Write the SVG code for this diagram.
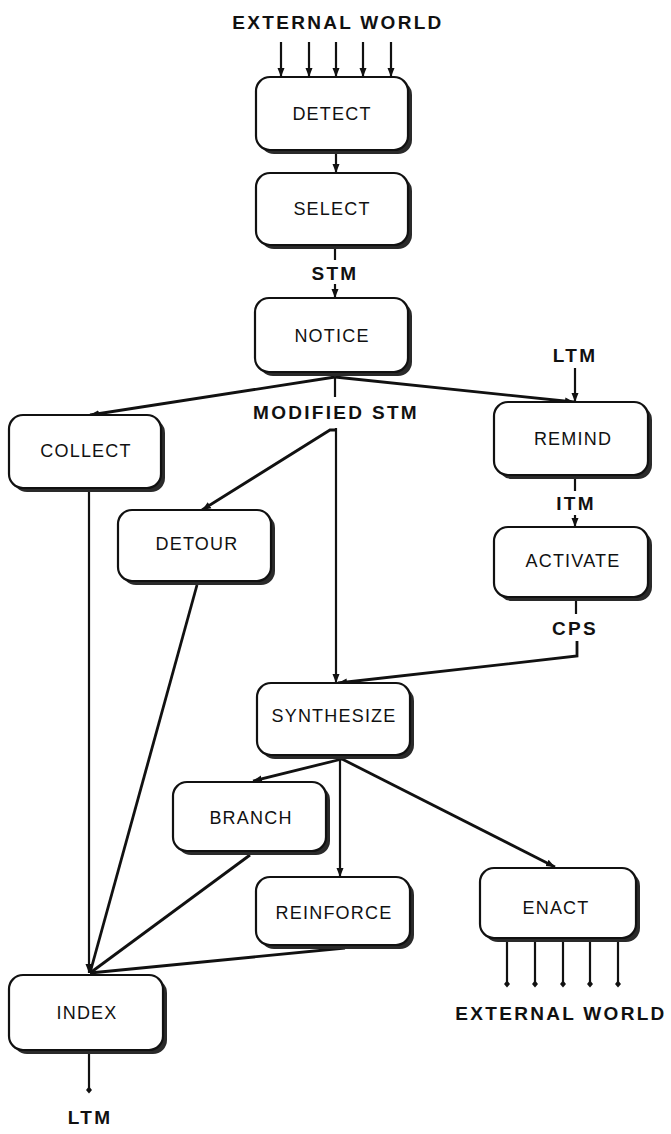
<svg xmlns="http://www.w3.org/2000/svg" width="671" height="1134" viewBox="0 0 671 1134">
<defs>
<marker id="arr" markerUnits="userSpaceOnUse" markerWidth="10" markerHeight="10" viewBox="0 0 10 10" refX="9" refY="5" orient="auto">
<path d="M0,1.5 L9,5 L0,8.5 Z" fill="#111"/>
</marker>
<marker id="dot" markerUnits="userSpaceOnUse" markerWidth="8" markerHeight="8" viewBox="0 0 8 8" refX="4" refY="4" orient="auto">
<path d="M0.5,4 L4,1 L7.5,4 L4,7 Z" fill="#111"/>
</marker>
</defs>
<style>
.sh{fill:#2a2a2a}
.bx{fill:#fff;stroke:#111;stroke-width:2.2}
.lb{font-family:"Liberation Sans",Arial,sans-serif;font-size:18px;fill:#111;text-anchor:middle;letter-spacing:1.2px}
.ol{font-family:"Liberation Sans",Arial,sans-serif;font-size:19px;font-weight:bold;fill:#111;text-anchor:middle;letter-spacing:2.3px}
.c{fill:none;stroke:#111;stroke-width:2.2}
.ca{fill:none;stroke:#111;stroke-width:2.2;marker-end:url(#arr)}
.cd{fill:none;stroke:#111;stroke-width:2.2;marker-end:url(#dot)}
.thk{stroke-width:2.8}
</style>
<rect width="671" height="1134" fill="#fff"/>
<g id="connectors">
<line class="ca" x1="281" y1="42" x2="281" y2="77"/>
<line class="ca" x1="309" y1="42" x2="309" y2="77"/>
<line class="ca" x1="336" y1="42" x2="336" y2="77"/>
<line class="ca" x1="363" y1="42" x2="363" y2="77"/>
<line class="ca" x1="391" y1="42" x2="391" y2="77"/>
<line class="ca" x1="336" y1="154" x2="336" y2="173"/>
<line class="c" x1="335" y1="249" x2="335" y2="260"/>
<line class="ca" x1="335" y1="284" x2="335" y2="298"/>
<line class="ca thk" x1="335" y1="377" x2="90" y2="415"/>
<line class="ca thk" x1="335" y1="377" x2="574" y2="402"/>
<line class="c" x1="335" y1="377" x2="335" y2="397"/>
<path class="ca thk" d="M336,430 L330,430 L202,510"/>
<line class="ca" x1="336" y1="428" x2="336" y2="683"/>
<line class="ca" x1="575" y1="368" x2="575" y2="402"/>
<line class="c" x1="575" y1="479" x2="575" y2="491"/>
<line class="ca" x1="575" y1="515" x2="575" y2="527"/>
<line class="c" x1="576" y1="601" x2="576" y2="614"/>
<path class="ca thk" d="M577,641 L577,656 L338,683"/>
<line class="ca" x1="89" y1="491" x2="89" y2="973"/>
<line class="c thk" x1="197" y1="585" x2="90" y2="973"/>
<line class="ca thk" x1="342" y1="759" x2="253" y2="781"/>
<line class="ca" x1="340" y1="759" x2="340" y2="877"/>
<line class="ca thk" x1="342" y1="759" x2="555" y2="867"/>
<line class="c thk" x1="250" y1="855" x2="90" y2="973"/>
<line class="c thk" x1="345" y1="948" x2="90" y2="973"/>
<line class="cd" x1="89" y1="1053" x2="89" y2="1090"/>
<line class="cd" x1="507" y1="941" x2="507" y2="984"/>
<line class="cd" x1="535" y1="941" x2="535" y2="984"/>
<line class="cd" x1="563" y1="941" x2="563" y2="984"/>
<line class="cd" x1="590" y1="941" x2="590" y2="984"/>
<line class="cd" x1="618" y1="941" x2="618" y2="984"/>
</g>
<g id="labels">
<text class="ol" x="338" y="29">EXTERNAL WORLD</text>
<text class="ol" x="335" y="280">STM</text>
<text class="ol" x="336" y="419">MODIFIED STM</text>
<text class="ol" x="575" y="362">LTM</text>
<text class="ol" x="576" y="510">ITM</text>
<text class="ol" x="575" y="635">CPS</text>
<text class="ol" x="561" y="1020">EXTERNAL WORLD</text>
<text class="ol" x="90" y="1124">LTM</text>
</g>
<g id="detect"><rect class="sh" x="260" y="81" width="152" height="73" rx="14"/><rect class="bx" x="256" y="77" width="152" height="73" rx="14"/><text class="lb" x="332" y="119.5">DETECT</text></g>
<g id="select"><rect class="sh" x="260" y="177" width="152" height="72" rx="14"/><rect class="bx" x="256" y="173" width="152" height="72" rx="14"/><text class="lb" x="332" y="214.5">SELECT</text></g>
<g id="notice"><rect class="sh" x="259" y="302" width="153" height="74" rx="14"/><rect class="bx" x="255" y="298" width="153" height="74" rx="14"/><text class="lb" x="332" y="341.5">NOTICE</text></g>
<g id="collect"><rect class="sh" x="13" y="419" width="152" height="73" rx="14"/><rect class="bx" x="9" y="415" width="152" height="73" rx="14"/><text class="lb" x="86" y="456.5">COLLECT</text></g>
<g id="remind"><rect class="sh" x="498" y="406" width="154" height="73" rx="14"/><rect class="bx" x="494" y="402" width="154" height="73" rx="14"/><text class="lb" x="573" y="444.5">REMIND</text></g>
<g id="activate"><rect class="sh" x="498" y="531" width="154" height="70" rx="14"/><rect class="bx" x="494" y="527" width="154" height="70" rx="14"/><text class="lb" x="573" y="566.5">ACTIVATE</text></g>
<g id="detour"><rect class="sh" x="122" y="514" width="153" height="71" rx="14"/><rect class="bx" x="118" y="510" width="153" height="71" rx="14"/><text class="lb" x="197" y="549.5">DETOUR</text></g>
<g id="synthesize"><rect class="sh" x="261" y="687" width="153" height="72" rx="14"/><rect class="bx" x="257" y="683" width="153" height="72" rx="14"/><text class="lb" x="334" y="721.5">SYNTHESIZE</text></g>
<g id="branch"><rect class="sh" x="177" y="786" width="153" height="69" rx="14"/><rect class="bx" x="173" y="782" width="153" height="69" rx="14"/><text class="lb" x="251" y="823.5">BRANCH</text></g>
<g id="reinforce"><rect class="sh" x="260" y="881" width="154" height="68" rx="14"/><rect class="bx" x="256" y="877" width="154" height="68" rx="14"/><text class="lb" x="334" y="918.5">REINFORCE</text></g>
<g id="enact"><rect class="sh" x="484" y="872" width="156" height="70" rx="14"/><rect class="bx" x="480" y="868" width="156" height="70" rx="14"/><text class="lb" x="556" y="913.5">ENACT</text></g>
<g id="index"><rect class="sh" x="13" y="979" width="154" height="75" rx="14"/><rect class="bx" x="9" y="975" width="154" height="75" rx="14"/><text class="lb" x="87" y="1018.5">INDEX</text></g>
</svg>
